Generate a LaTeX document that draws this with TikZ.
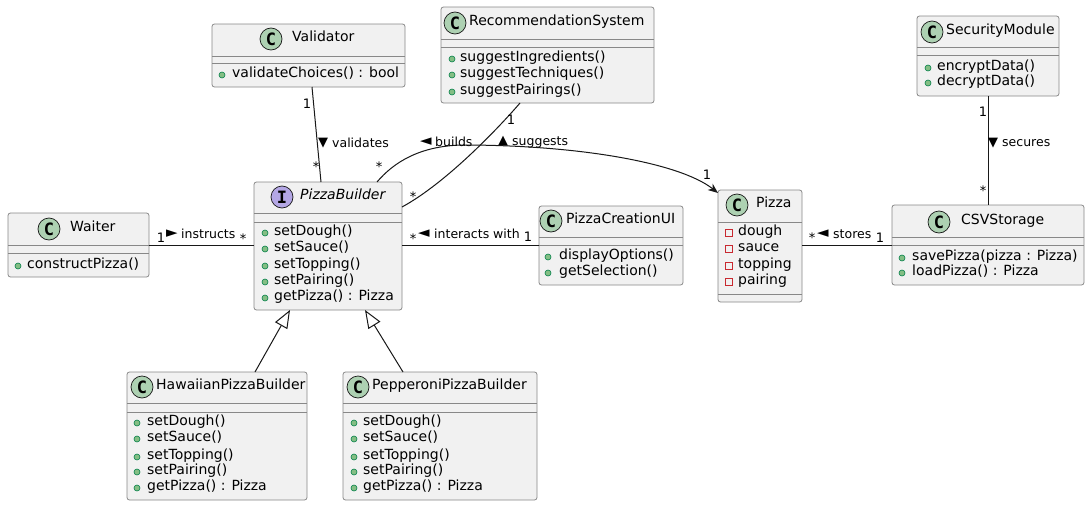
\documentclass[tikz,border=0pt]{standalone}
\usepackage{fontspec}
\setmainfont{DejaVu Sans}[ItalicFont={DejaVu Sans Oblique},BoldFont={DejaVu Sans Bold}]
\newfontfamily\iconfont{DejaVu Sans Mono}[BoldFont={DejaVu Sans Mono Bold}]
\usetikzlibrary{arrows.meta,calc}
\definecolor{boxfill}{HTML}{F1F1F1}
\definecolor{boxline}{HTML}{888888}
\definecolor{cfill}{HTML}{ADD1B2}
\definecolor{ifill}{HTML}{B4A7E5}
\definecolor{pubfill}{HTML}{84BE84}
\definecolor{publine}{HTML}{038048}
\definecolor{privline}{HTML}{C82930}
\definecolor{edgecol}{HTML}{181818}
\tikzset{
  umlbox/.style={draw=boxline, fill=boxfill, rounded corners=2.5pt, line width=0.8pt, inner sep=0pt, outer sep=0pt},
  sepline/.style={draw=boxline, line width=0.8pt},
  icon/.style={circle, draw=edgecol, line width=0.7pt, minimum size=22pt, inner sep=0pt, font=\fontsize{17}{17}\iconfont\bfseries},
  ctitle/.style={anchor=mid west, inner sep=0pt, font=\fontsize{14}{16}\selectfont},
  mtext/.style={anchor=mid west, inner sep=0pt, font=\fontsize{14}{16}\selectfont},
  pubdot/.style={circle, fill=pubfill, draw=publine, line width=0.6pt, minimum size=6pt, inner sep=0pt},
  privsq/.style={rectangle, draw=privline, line width=0.8pt, minimum size=6.5pt, inner sep=0pt},
  lbl/.style={inner sep=0pt, font=\fontsize{13}{13}\selectfont},
  dirlbl/.style={anchor=west, inner sep=0pt, font=\fontsize{12.5}{13}\selectfont},
  vtri/.style={inner sep=0pt, font=\fontsize{13}{13}\selectfont},
  htri/.style={inner sep=0pt, font=\fontsize{15}{15}\selectfont},
  conn/.style={draw=edgecol, line width=1pt},
}
\newcommand\umlclass[5]{\node[umlbox, minimum width={#4-#2}, minimum height={#5-#3}] (#1) at ({(#2+#4)/2},{(#3+#5)/2}) {};}
\newcommand\sepl[3]{\draw[sepline] (#1,#3) -- (#2,#3);}
\newcommand\pubm[4]{\node[pubdot] at (#1,#3) {}; \node[mtext] at (#2,#3) {#4};}
\newcommand\privm[4]{\node[privsq] at (#1,#3) {}; \node[mtext] at (#2,#3) {#4};}
\begin{document}
\begin{tikzpicture}[x=1pt,y=-1pt]
\useasboundingbox[fill=white] (0,0) rectangle (1090,506);

% ---------- Validator
\umlclass{val}{212}{24}{405}{87}
\sepl{212}{405}{56}\sepl{212}{405}{63}
\node[icon, fill=cfill] (valI) at (271,39) {C};
\node[ctitle] (valT) at (292,39) {Validator};
\pubm{222}{232}{75}{validateChoices() : bool}

% ---------- RecommendationSystem
\umlclass{rec}{441}{7}{654}{103}
\sepl{441}{654}{39}\sepl{441}{654}{47}
\node[icon, fill=cfill] (recI) at (455,23) {C};
\node[ctitle] (recT) at (469,23) {RecommendationSystem};
\pubm{452}{460}{59}{suggestIngredients()}
\pubm{452}{460}{75}{suggestTechniques()}
\pubm{452}{460}{92}{suggestPairings()}

% ---------- SecurityModule
\umlclass{sec}{917}{16}{1059}{96}
\sepl{917}{1059}{47}\sepl{917}{1059}{55}
\node[icon, fill=cfill] (secI) at (932,32) {C};
\node[ctitle] (secT) at (946,32) {SecurityModule};
\pubm{928}{937}{68}{encryptData()}
\pubm{928}{937}{83}{decryptData()}

% ---------- Waiter
\umlclass{wai}{8}{213}{149}{277}
\sepl{8}{149}{245}\sepl{8}{149}{253}
\node[icon, fill=cfill] (waiI) at (49,229) {C};
\node[ctitle] (waiT) at (70,229) {Waiter};
\pubm{18}{27}{266}{constructPizza()}

% ---------- PizzaBuilder (interface)
\umlclass{pb}{254}{182}{402}{310}
\sepl{254}{402}{213}\sepl{254}{402}{222}
\node[icon, fill=ifill] (pbI) at (282,197) {I};
\node[ctitle, font=\fontsize{14}{16}\itshape] (pbT) at (300,197) {PizzaBuilder};
\pubm{265}{274}{233}{setDough()}
\pubm{265}{274}{249}{setSauce()}
\pubm{265}{274}{266}{setTopping()}
\pubm{265}{274}{282}{setPairing()}
\pubm{265}{274}{298}{getPizza() : Pizza}

% ---------- PizzaCreationUI
\umlclass{pcui}{539}{206}{683}{285}
\sepl{539}{683}{237}\sepl{539}{683}{245}
\node[icon, fill=cfill] (pcuiI) at (551,221) {C};
\node[ctitle] (pcuiT) at (566,221) {PizzaCreationUI};
\pubm{548}{559}{257}{displayOptions()}
\pubm{548}{559}{273}{getSelection()}

% ---------- Pizza
\umlclass{pizza}{718}{190}{802}{302}
\sepl{718}{802}{222}\sepl{718}{802}{294}
\node[icon, fill=cfill] (pizzaI) at (737,205) {C};
\node[ctitle] (pizzaT) at (756,205) {Pizza};
\privm{729}{738}{233}{dough}
\privm{729}{738}{249}{sauce}
\privm{729}{738}{266}{topping}
\privm{729}{738}{282}{pairing}

% ---------- CSVStorage
\umlclass{csv}{892}{205}{1084}{285}
\sepl{892}{1084}{237}\sepl{892}{1084}{245}
\node[icon, fill=cfill] (csvI) at (939,222) {C};
\node[ctitle] (csvT) at (961,222) {CSVStorage};
\pubm{902}{912}{258}{savePizza(pizza : Pizza)}
\pubm{902}{912}{273}{loadPizza() : Pizza}

% ---------- HawaiianPizzaBuilder
\umlclass{haw}{127}{372}{307}{500}
\sepl{127}{307}{403}\sepl{127}{307}{412}
\node[icon, fill=cfill] (hawI) at (142,387) {C};
\node[ctitle] (hawT) at (156,387) {HawaiianPizzaBuilder};
\pubm{137}{147}{423}{setDough()}
\pubm{137}{147}{439}{setSauce()}
\pubm{137}{147}{457}{setTopping()}
\pubm{137}{147}{472}{setPairing()}
\pubm{137}{147}{488}{getPizza() : Pizza}

% ---------- PepperoniPizzaBuilder
\umlclass{pep}{343}{372}{537}{500}
\sepl{343}{537}{403}\sepl{343}{537}{412}
\node[icon, fill=cfill] (pepI) at (358,387) {C};
\node[ctitle] (pepT) at (372,387) {PepperoniPizzaBuilder};
\pubm{354}{363}{423}{setDough()}
\pubm{354}{363}{439}{setSauce()}
\pubm{354}{363}{457}{setTopping()}
\pubm{354}{363}{472}{setPairing()}
\pubm{354}{363}{488}{getPizza() : Pizza}

% ---------- connectors
% Validator -- PizzaBuilder
\draw[conn] ($(val.south)+(3.5,0)$) -- ($(pb.north)+(-7,0)$);
\node[lbl] (l1a) at (307,104) {1};
\node[lbl] (l1b) at (316,167) {*};
\node[vtri] (l1t) at (323,143) {▼};
\node[dirlbl] (l1c) at (332,143) {validates};

% RecommendationSystem -- PizzaBuilder
\draw[conn] ($(rec.south)+(-27.5,0)$) .. controls (502,124) and (448,182) .. ($(pb.north east)+(0,25)$);
\node[lbl] (l2a) at (511,120) {1};
\node[lbl] (l2b) at (413,197) {*};
\node[vtri] (l2t) at (503,141) {▲};
\node[dirlbl] (l2c) at (512,142) {suggests};

% PizzaBuilder builds Pizza
\draw[conn, -{Stealth[length=10pt,width=8pt,inset=3pt]}] ($(pb.north)+(49,0)$) .. controls (394,162) and (420,146) .. (462,145)
   .. controls (580,145) and (680,163) .. ($(pizza.north west)+(0,3)$);
\node[lbl] (l3a) at (379,167) {*};
\node[lbl] (l3b) at (707,175) {1};
\node[htri] (l3t) at (426,142) {◄};
\node[dirlbl] (l3c) at (435,142) {builds};

% Waiter instructs PizzaBuilder
\draw[conn] (wai.east) -- (wai.east -| pb.west);
\node[lbl] (l4a) at (161,238) {1};
\node[htri] (l4t) at (172,234) {►};
\node[dirlbl] (l4b) at (181,234) {instructs};
\node[lbl] (l4c) at (243,239) {*};

% PizzaBuilder interacts with PizzaCreationUI
\draw[conn] (pb.east |- pcui.west) -- (pcui.west);
\node[lbl] (l5a) at (413,239) {*};
\node[htri] (l5t) at (424,234) {◄};
\node[dirlbl] (l5b) at (434,234) {interacts with};
\node[lbl] (l5c) at (528,237) {1};

% Pizza stores CSVStorage
\draw[conn] (pizza.east |- csv.west) -- (csv.west);
\node[lbl] (l6a) at (812,238) {*};
\node[htri] (l6t) at (823,234) {◄};
\node[dirlbl] (l6b) at (833,234) {stores};
\node[lbl] (l6c) at (880,238) {1};

% SecurityModule secures CSVStorage
\draw[conn] (sec.south) -- (csv.north);
\node[lbl] (l7a) at (983,112) {1};
\node[vtri] (l7t) at (993,143) {▼};
\node[dirlbl] (l7b) at (1002,143) {secures};
\node[lbl] (l7c) at (983,191) {*};

% Inheritance
\draw[conn, -{Triangle[open,length=18pt,width=14pt]}] ($(haw.north)+(38,0)$) -- ($(pb.south)+(-38,0)$);
\draw[conn, -{Triangle[open,length=18pt,width=14pt]}] ($(pep.north)+(-37,0)$) -- ($(pb.south)+(37,0)$);
\end{tikzpicture}
\end{document}
